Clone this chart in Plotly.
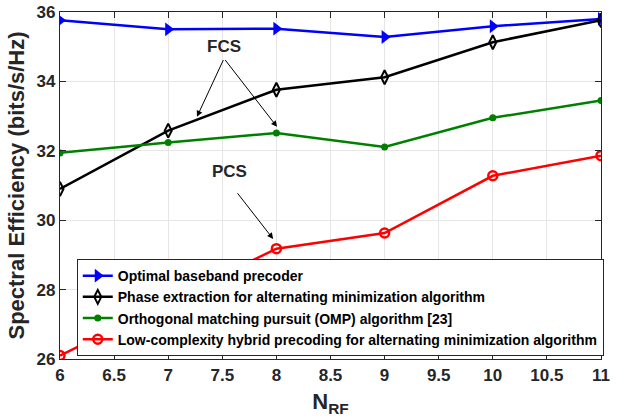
import plotly.graph_objects as go

n_rf = [6, 7, 8, 9, 10, 11]
optimal = [35.76, 35.50, 35.52, 35.28, 35.59, 35.80]
phase_extraction = [30.90, 32.58, 33.76, 34.12, 35.13, 35.76]
omp = [31.94, 32.24, 32.51, 32.11, 32.95, 33.45]
low_complexity = [26.10, 27.65, 29.18, 29.63, 31.28, 31.86]

x_ticks = [6, 6.5, 7, 7.5, 8, 8.5, 9, 9.5, 10, 10.5, 11]
y_ticks = [26, 28, 30, 32, 34, 36]

names = [
    "Optimal baseband precoder",
    "Phase extraction for alternating minimization algorithm",
    "Orthogonal matching pursuit (OMP) algorithm [23]",
    "Low-complexity hybrid precoding for alternating minimization algorithm",
]

FONT = "Liberation Sans"

fig = go.Figure()
fig.add_trace(go.Scatter(x=n_rf, y=optimal, name=names[0], mode="lines+markers",
                         line=dict(color="#0000ff", width=2.5),
                         marker=dict(symbol="triangle-right", size=12, color="#0000ff")))
fig.add_trace(go.Scatter(x=n_rf, y=phase_extraction, name=names[1], mode="lines+markers",
                         line=dict(color="#000000", width=2.5),
                         marker=dict(symbol="diamond-tall-open", size=10, color="#000000",
                                     line=dict(width=2))))
fig.add_trace(go.Scatter(x=n_rf, y=omp, name=names[2], mode="lines+markers",
                         line=dict(color="#008000", width=2.5),
                         marker=dict(symbol="circle", size=7, color="#008000")))
fig.add_trace(go.Scatter(x=n_rf, y=low_complexity, name=names[3], mode="lines+markers",
                         line=dict(color="#ff0000", width=2.5),
                         marker=dict(symbol="circle-open", size=9, color="#ff0000",
                                     line=dict(width=2.5))))

arrow = dict(xref="x", yref="y", axref="x", ayref="y", showarrow=True,
             arrowhead=2, arrowsize=1.2, arrowwidth=1, arrowcolor="black", text="")
fig.add_annotation(x=7.266, y=32.98, ax=7.516, ay=34.66, **arrow)
fig.add_annotation(x=8.006, y=32.69, ax=7.516, ay=34.66, **arrow)
fig.add_annotation(x=7.97, y=29.46, ax=7.63, ay=30.82, **arrow)
fig.add_annotation(x=7.52, y=35.0, text="FCS", showarrow=False,
                   font=dict(family=FONT, size=17, color="#262626", weight="bold"))
fig.add_annotation(x=7.57, y=31.39, text="PCS", showarrow=False,
                   font=dict(family=FONT, size=17, color="#262626", weight="bold"))

axis_common = dict(showgrid=True, gridcolor="#e6e6e6", gridwidth=1, automargin=False,
                   showline=True, linecolor="#262626", linewidth=1.2, mirror="ticks",
                   ticks="inside", ticklen=6, tickcolor="#262626", zeroline=False,
                   tickfont=dict(family=FONT, size=17, color="#262626", weight="bold"))

fig.update_xaxes(range=[6, 11], tickvals=x_ticks, ticktext=[f"{v:g}" for v in x_ticks],
                 title=dict(text="N<sub>RF</sub>",
                            font=dict(family=FONT, size=22, color="#262626", weight="bold"),
                            standoff=10),
                 **axis_common)
fig.update_yaxes(range=[26, 36], tickvals=y_ticks, ticktext=[f"{v:g}" for v in y_ticks],
                 title=dict(text="Spectral Efficiency (bits/s/Hz)",
                            font=dict(family=FONT, size=22, color="#262626", weight="bold"),
                            standoff=5),
                 **axis_common)

fig.update_layout(
    width=619, height=420,
    margin=dict(l=60, r=18, t=12, b=61),
    plot_bgcolor="white", paper_bgcolor="white",
    showlegend=True,
    legend=dict(x=0.031, y=0.288, xanchor="left", yanchor="top",
                bgcolor="white", bordercolor="#262626", borderwidth=1,
                font=dict(family=FONT, size=14, color="black", weight="bold"),
                itemwidth=30, tracegroupgap=0),
)

fig.write_html("out.html")
